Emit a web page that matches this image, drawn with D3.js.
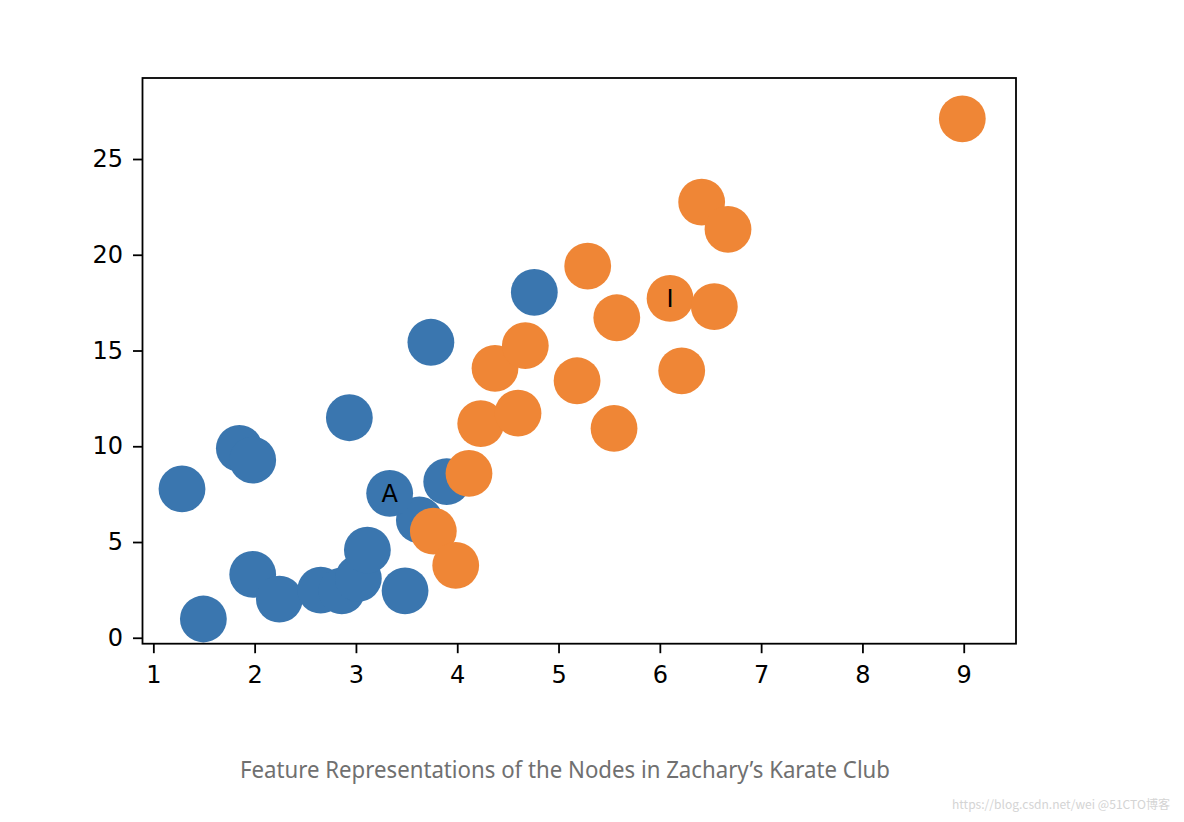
<!DOCTYPE html>
<html>
<head>
<meta charset="utf-8">
<script src="https://cdn.jsdelivr.net/npm/d3@7"></script>
<style>
  html, body { margin: 0; padding: 0; background: #ffffff; }
  svg { display: block; }
</style>
</head>
<body>
<div id="chart"></div>
<script>
// ---- data ----
const club0X = [1.283, 1.494, 1.849, 1.981, 1.981, 2.244, 2.652, 2.86, 3.024, 3.113, 3.485, 2.935, 3.74, 3.626, 3.333, 3.896, 4.761];
const club0Y = [7.77, 0.98, 9.89, 9.28, 3.31, 2.02, 2.49, 2.45, 3.10, 4.58, 2.45, 11.49, 15.43, 6.15, 7.54, 8.15, 18.04];
const club0Labels = ["", "", "", "", "", "", "", "", "", "", "", "", "", "", "A", "", ""];

const club1X = [3.764, 3.985, 4.116, 4.232, 4.600, 4.373, 4.672, 5.183, 5.548, 5.288, 5.575, 6.101, 6.538, 6.216, 6.413, 6.673, 8.986];
const club1Y = [5.57, 3.78, 8.58, 11.18, 11.73, 14.07, 15.25, 13.42, 10.93, 19.41, 16.71, 17.72, 17.29, 13.94, 22.75, 21.33, 27.10];
const club1Labels = ["", "", "", "", "", "", "", "", "", "", "", "I", "", "", "", "", ""];

const xTicks = [1, 2, 3, 4, 5, 6, 7, 8, 9];
const yTicks = [0, 5, 10, 15, 20, 25];
const caption = "Feature Representations of the Nodes in Zachary\u2019s Karate Club";
const watermark = "https://blog.csdn.net/wei @51CTO\u535a\u5ba2";

// ---- layout ----
const W = 1184, H = 822;
const plot = { left: 142.5, right: 1016, top: 78, bottom: 643.7 };
const colors = { club0: "#3a76af", club1: "#ef8636" };
const R = 23.4;

const svg = d3.select("#chart").append("svg").attr("width", W).attr("height", H);

const x = d3.scaleLinear().domain([0.893, 9.516]).range([plot.left, plot.right]);
const y = d3.scaleLinear().domain([-0.31, 29.23]).range([plot.bottom, plot.top]);

const tickFont = "'DejaVu Sans', sans-serif";

// axes
const xAxis = svg.append("g")
  .attr("transform", `translate(0,${plot.bottom})`)
  .call(d3.axisBottom(x).tickValues(xTicks).tickFormat(d3.format("d")).tickSize(9.5).tickPadding(12.5));
const yAxis = svg.append("g")
  .attr("transform", `translate(${plot.left},0)`)
  .call(d3.axisLeft(y).tickValues(yTicks).tickFormat(d3.format("d")).tickSize(9.5).tickPadding(10));

[xAxis, yAxis].forEach(g => {
  g.select(".domain").remove();
  g.selectAll(".tick line").attr("stroke", "#000").attr("stroke-width", 1.8);
  g.selectAll(".tick text").attr("fill", "#000").style("font-family", tickFont).style("font-size", "24px");
});

// points
const club0 = club0X.map((v, i) => ({ x: v, y: club0Y[i], label: club0Labels[i], c: colors.club0 }));
const club1 = club1X.map((v, i) => ({ x: v, y: club1Y[i], label: club1Labels[i], c: colors.club1 }));
const all = club0.concat(club1);

svg.append("g").selectAll("circle").data(all).join("circle")
  .attr("cx", d => x(d.x))
  .attr("cy", d => y(d.y))
  .attr("r", R)
  .attr("fill", d => d.c);

svg.append("g").selectAll("text").data(all.filter(d => d.label)).join("text")
  .attr("x", d => x(d.x))
  .attr("y", d => y(d.y))
  .attr("dy", "0.35em")
  .attr("text-anchor", "middle")
  .style("font-family", tickFont)
  .style("font-size", "24px")
  .attr("fill", "#000")
  .text(d => d.label);

// frame
svg.append("rect")
  .attr("x", plot.left).attr("y", plot.top)
  .attr("width", plot.right - plot.left).attr("height", plot.bottom - plot.top)
  .attr("fill", "none").attr("stroke", "#000").attr("stroke-width", 1.8);

// caption
svg.append("text")
  .attr("x", 240).attr("y", 778)
  .attr("textLength", 650).attr("lengthAdjust", "spacingAndGlyphs")
  .style("font-family", "'Noto Sans', 'Open Sans', sans-serif")
  .style("font-size", "23px")
  .attr("fill", "#707070")
  .text(caption);

// watermark
svg.append("text")
  .attr("x", 952).attr("y", 809)
  .attr("textLength", 218).attr("lengthAdjust", "spacingAndGlyphs")
  .style("font-family", "'Noto Sans CJK SC', 'Noto Sans', sans-serif")
  .style("font-size", "12px")
  .attr("fill", "#d4d4d4")
  .text(watermark);
</script>
</body>
</html>
